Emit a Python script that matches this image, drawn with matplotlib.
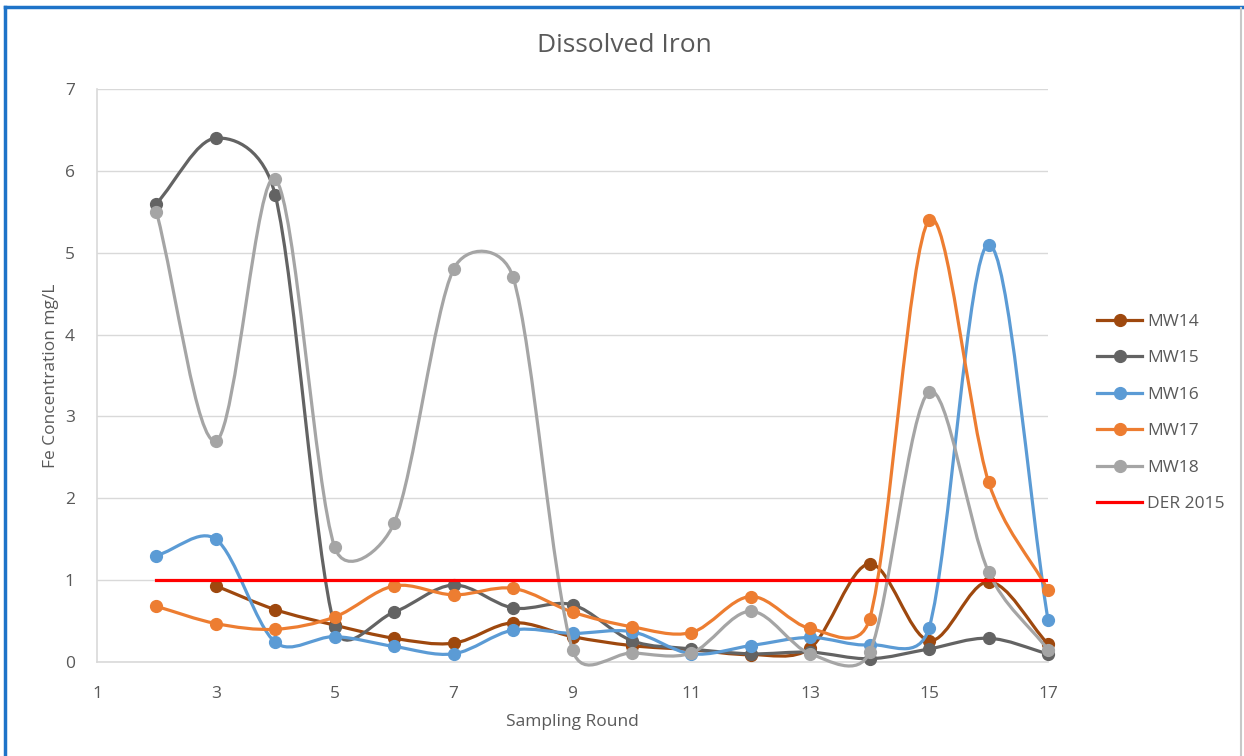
import matplotlib
matplotlib.use("Agg")
import matplotlib.pyplot as plt
import numpy as np
from matplotlib.path import Path
from matplotlib.patches import PathPatch
from matplotlib.lines import Line2D

plt.rcParams['font.family'] = ['Open Sans', 'DejaVu Sans']

rounds = list(range(2, 18))
mw14_rounds = list(range(3, 18))

mw14 = [0.93, 0.64, 0.45, 0.29, 0.23, 0.48, 0.31, 0.20, 0.15, 0.09, 0.17, 1.20, 0.26, 0.98, 0.22]
mw15 = [5.6, 6.4, 5.7, 0.43, 0.61, 0.94, 0.66, 0.70, 0.26, 0.16, 0.10, 0.12, 0.04, 0.16, 0.29, 0.10]
mw16 = [1.3, 1.5, 0.24, 0.31, 0.19, 0.10, 0.39, 0.35, 0.37, 0.10, 0.20, 0.30, 0.21, 0.42, 5.1, 0.51]
mw17 = [0.68, 0.47, 0.40, 0.55, 0.93, 0.82, 0.90, 0.61, 0.43, 0.36, 0.80, 0.41, 0.53, 5.4, 2.2, 0.88]
mw18 = [5.5, 2.7, 5.9, 1.4, 1.7, 4.8, 4.7, 0.15, 0.11, 0.11, 0.62, 0.10, 0.12, 3.3, 1.1, 0.15]
der_rounds = [2, 17]
der_2015 = [1.0, 1.0]

series = [
    ("MW14", mw14_rounds, mw14, "#9E480E"),
    ("MW15", rounds, mw15, "#636363"),
    ("MW16", rounds, mw16, "#5B9BD5"),
    ("MW17", rounds, mw17, "#ED7D31"),
    ("MW18", rounds, mw18, "#A5A5A5"),
]

text_col = "#595959"


def smooth_path(ax, x, y):
    # Excel-like smoothed line: cubic Bezier through the points; the tangent is
    # shortened where the segment is much shorter than its neighbour (on screen)
    pts = np.column_stack([x, y]).astype(float)
    scr = ax.transData.transform(pts)
    n = len(pts)
    seg = np.hypot(*np.diff(scr, axis=0).T)

    def k(a, b):
        return min(1.0, np.sqrt(2 * a / (a + b))) / 6.0

    verts = [pts[0]]
    codes = [Path.MOVETO]
    for i in range(n - 1):
        p1, p2 = pts[i], pts[i + 1]
        if i > 0:
            c1 = p1 + (p2 - pts[i - 1]) * k(seg[i], seg[i - 1])
        else:
            c1 = p1 + (p2 - p1) / 3.0
        if i + 2 < n:
            c2 = p2 - (pts[i + 2] - p1) * k(seg[i], seg[i + 1])
        else:
            c2 = p2 - (p2 - p1) / 3.0
        verts += [c1, c2, p2]
        codes += [Path.CURVE4] * 3
    return Path(verts, codes)


fig = plt.figure(figsize=(12.44, 7.56), dpi=100)
ax = fig.add_axes([97 / 1244, 1 - 662 / 756, (1048 - 97) / 1244, (662 - 89) / 756])
ax.set_xlim(1, 17)
ax.set_ylim(0, 7)

handles = []
for i, (name, xs, ys, col) in enumerate(series):
    patch = PathPatch(smooth_path(ax, xs, ys), facecolor='none', edgecolor=col,
                      linewidth=2.3, zorder=3 + i * 2, clip_on=False,
                      capstyle='round', joinstyle='round')
    ax.add_patch(patch)
    ax.plot(xs, ys, linestyle='none', marker='o', markersize=8.5, color=col,
            zorder=4 + i * 2, clip_on=False)
    handles.append(Line2D([], [], color=col, linewidth=2.3, marker='o', markersize=8.5))

ax.plot(der_rounds, der_2015, color="#FF0000", linewidth=2.3, zorder=20)
handles.append(Line2D([], [], color="#FF0000", linewidth=2.3))

ax.set_xticks(range(1, 18, 2))
ax.set_yticks(range(0, 8))
ax.grid(axis='y', color="#D9D9D9", linewidth=1)
ax.set_axisbelow(True)
for s in ['top', 'right']:
    ax.spines[s].set_visible(False)
for s in ['left', 'bottom']:
    ax.spines[s].set_color("#D9D9D9")
    ax.spines[s].set_linewidth(1.2)
ax.tick_params(length=0, labelsize=12.5, labelcolor=text_col)
ax.tick_params(axis='x', pad=17)
ax.tick_params(axis='y', pad=16)

fig.text(0.502, 1 - 46 / 756, "Dissolved Iron", fontsize=19, color=text_col,
         ha='center', va='center')
ax.set_xlabel("Sampling Round", fontsize=12.5, color=text_col, labelpad=9)
ax.set_ylabel("Fe Concentration mg/L", fontsize=12.5, color=text_col, labelpad=4)

names = [s[0] for s in series] + ["DER 2015"]
leg = fig.legend(handles, names, loc='center left', bbox_to_anchor=(1090 / 1244, 1 - 413 / 756),
                 frameon=False, fontsize=12.5, handlelength=2.6, handletextpad=0.3,
                 labelspacing=1.17, borderaxespad=0)
for t in leg.get_texts():
    t.set_color(text_col)

# outer frame of the chart image
fig.add_artist(Line2D([5 / 1244, 5 / 1244], [0, 1 - 7 / 756], color="#1E73C8", linewidth=2.5))
fig.add_artist(Line2D([5 / 1244, 1242 / 1244], [1 - 7 / 756, 1 - 7 / 756], color="#1E73C8", linewidth=2.5))
fig.add_artist(Line2D([1241 / 1244, 1241 / 1244], [0, 1 - 8 / 756], color="#C8C8C8", linewidth=1.5))

fig.savefig("out.png", dpi=100)
